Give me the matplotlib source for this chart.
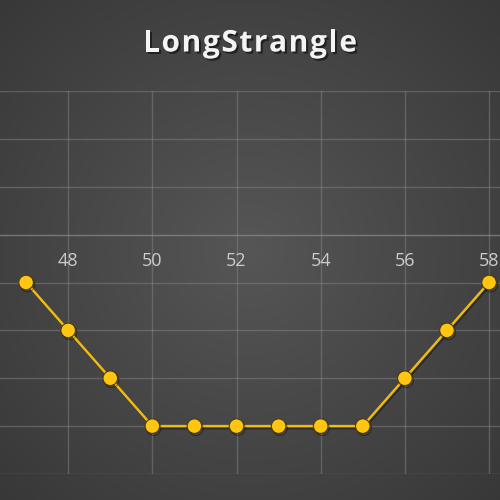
import numpy as np
import matplotlib
matplotlib.use("Agg")
import matplotlib.pyplot as plt
import matplotlib.patheffects as pe

# Data
strikes = [47, 48, 49, 50, 51, 52, 53, 54, 55, 56, 57, 58]
payoff = [-1, -2, -3, -4, -4, -4, -4, -4, -4, -3, -2, -1]
x_ticks = [48, 50, 52, 54, 56, 58]
y_ticks = [-5, -4, -3, -2, -1, 0, 1, 2, 3]
title = "LongStrangle"

fig = plt.figure(figsize=(5, 5), dpi=100)

# background radial gradient
bg = fig.add_axes([0, 0, 1, 1], zorder=0)
yy, xx = np.mgrid[0:1:300j, 0:1:300j]
r = np.sqrt((xx - 0.5) ** 2 + ((yy - 0.5) * 1.0) ** 2)
v = np.clip(1 - r / 0.8, 0, 1)
lo = np.array([0x34, 0x34, 0x34]) / 255
hi = np.array([0x56, 0x56, 0x56]) / 255
img = lo + (hi - lo) * v[..., None]
bg.imshow(img, extent=[0, 1, 0, 1], aspect="auto", origin="lower")
bg.axis("off")

ax = fig.add_axes([0, 26 / 500, 1, (474 - 91) / 500], zorder=1)
ax.patch.set_alpha(0)
ax.set_xlim(46.38, 58.26)
ax.set_ylim(-5, 3)
for s in ax.spines.values():
    s.set_visible(False)
ax.set_xticks(x_ticks)
ax.set_yticks(y_ticks)
ax.grid(True, color="#8a8a8a", alpha=0.45, linewidth=1)
ax.axhline(0, color="#9a9a9a", alpha=0.35, linewidth=1.0)
ax.tick_params(axis="both", length=0)
ax.set_yticklabels([])
ax.set_xticklabels([])
for t in x_ticks:
    ax.text(t, -0.56, str(t), ha="center", va="center", color="#cccccc",
            fontsize=13, family="Open Sans")

ax.plot(strikes, payoff, color="#f0bb10", linewidth=1.8, zorder=3,
        marker="o", markersize=10.5, markerfacecolor="#ffc513",
        markeredgecolor="#4a3a10", markeredgewidth=0.8,
        path_effects=[pe.SimpleLineShadow(offset=(1, -1.5), shadow_color="black", alpha=0.35), pe.Normal()],
        clip_on=True)

# title with letter spacing
renderer = fig.canvas.get_renderer()
tkw = dict(color="#f4f4f4", fontsize=21.5, fontweight="bold", family="Open Sans")
spacing = 1.6  # px
widths = []
for ch in title:
    t = fig.text(0, 0, ch, **tkw)
    widths.append(t.get_window_extent(renderer).width)
    t.remove()
total = sum(widths) + spacing * (len(title) - 1)
x0 = 250 - total / 2
for ch, w in zip(title, widths):
    fig.text(x0 / 500, 0.913, ch, ha="left", va="center", **tkw,
             path_effects=[pe.withSimplePatchShadow(offset=(1.5, -1.5), shadow_rgbFace="black", alpha=0.5)])
    x0 += w + spacing

fig.savefig("out.png", dpi=100)
